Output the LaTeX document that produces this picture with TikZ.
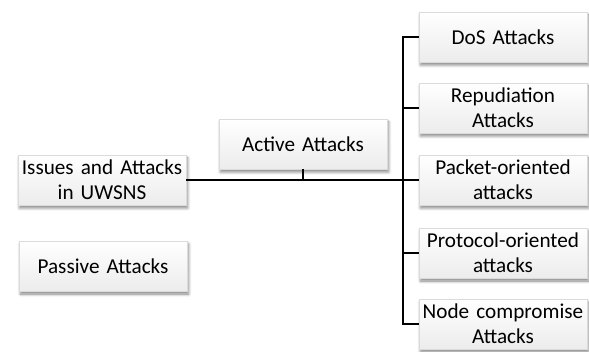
\documentclass[tikz,border=0pt]{standalone}
\usepackage{fontspec}
\setmainfont{Carlito}
\usetikzlibrary{shadows.blur}
\tikzset{
  card/.style={draw=gray!28, line width=0.5pt, top color=white, bottom color=gray!15,
    minimum width=168pt, minimum height=50pt, text width=166pt, align=center,
    inner sep=0pt, font=\fontsize{21.2}{25}\selectfont,
    blur shadow={shadow xshift=1.5pt, shadow yshift=-3pt, shadow blur steps=6, shadow opacity=50, shadow blur radius=3pt}},
  link/.style={line width=2pt, black}
}
\begin{document}
\begin{tikzpicture}[x=1pt, y=-1pt]
\useasboundingbox (0,0) rectangle (589,352);
% root and first level
\node[card] (issues) at (102,180) {Issues and Attacks\\in UWSNS};
\node[card] (passive) at (103,266) {Passive Attacks};
\node[card] (active) at (303,144) {Active Attacks};
% kinds of active attacks
\node[card] (dos) at (503,37) {DoS Attacks};
\node[card] (repud) at (503,108) {Repudiation\\Attacks};
\node[card] (packet) at (503,180) {Packet-oriented\\attacks};
\node[card] (proto) at (503,253) {Protocol-oriented\\attacks};
\node[card] (ncomp) at (503,324) {Node compromise\\Attacks};
% connectors
\coordinate (spine) at (403,180);
\draw[link] (issues.east) -- (spine);
\draw[link] (active.south) -- (active.south |- spine);
\foreach \b in {dos,repud,packet,proto,ncomp}
  \draw[link] (\b.west) -| (spine);
\end{tikzpicture}
\end{document}
